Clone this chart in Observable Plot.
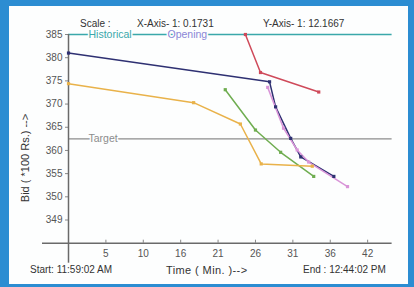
<!DOCTYPE html>
<html><head><meta charset="utf-8">
<script src="https://cdn.jsdelivr.net/npm/d3@7"></script>
<script src="https://cdn.jsdelivr.net/npm/@observablehq/plot@0.6"></script>
<style>
body{margin:0;background:#2c8dd2;width:414px;height:287px;overflow:hidden;font-family:"Liberation Sans",Arial,sans-serif;position:relative;}
#panel{position:absolute;left:9px;top:6px;width:399px;height:278px;background:#fdfefe;}
#chart{position:absolute;left:0;top:0;}
.t{position:absolute;font-size:10px;color:#333;white-space:nowrap;line-height:12px;}
</style></head><body>
<div id="panel"></div>
<div id="chart"></div>
<div class="t" style="left:80px;top:18px">Scale :</div>
<div class="t" style="left:137px;top:18px">X-Axis- 1: 0.1731</div>
<div class="t" style="left:263px;top:18px">Y-Axis- 1: 12.1667</div>
<div class="t" style="left:30px;top:264px">Start: 11:59:02 AM</div>
<div class="t" style="left:166px;top:264px;font-size:11px;letter-spacing:0.4px">Time ( Min. )--&gt;</div>
<div class="t" style="left:303px;top:264px">End : 12:44:02 PM</div>
<div class="t" style="left:25px;top:158px;font-size:11px;transform:translate(-50%,-50%) rotate(-90deg)">Bid ( *100 Rs.) --&gt;</div>
<script>
// Series (time in minutes, bid in *100 Rs.)
const bidderAT = [0, 27.96, 28.8, 30.9, 32.3, 36.9];
const bidderABid = [381.0, 374.8, 369.4, 362.6, 358.6, 354.4];
const bidderBT = [24.6, 26.7, 34.8];
const bidderBBid = [385.0, 376.8, 372.6];
const bidderCT = [21.8, 26.0, 29.5, 34.1];
const bidderCBid = [373.1, 364.4, 359.6, 354.4];
const bidderDT = [0, 17.4, 23.9, 26.8, 33.9];
const bidderDBid = [374.4, 370.3, 365.7, 357.1, 356.6];
const bidderET = [27.7, 29.9, 31.8, 33.4, 38.8];
const bidderEBid = [373.6, 364.8, 360.1, 357.5, 352.2];

const seriesNames = ["Bidder A", "Bidder B", "Bidder C", "Bidder D", "Bidder E"];
const seriesColors = ["#2e3072", "#cf4a5a", "#6fad50", "#e9b24a", "#d995d8"];

// Reference lines
const refNames = ["Historical", "Target"];
const refValues = [385, 362.5];
const refColors = ["#3aa8aa", "#8c8c8c"];
const openingLabel = "Opening";

// Axes
const xTickValues = [5.2, 10.4, 15.6, 20.8, 26.0, 31.2, 36.4, 41.6];
const xTickLabels = ["5", "10", "16", "21", "26", "31", "36", "42"];
const yTickValues = [385, 380, 375, 370, 365, 360, 355, 350, 345];
const yTickLabels = ["385", "380", "375", "370", "365", "360", "355", "350", "349"];

const series = [
  [bidderAT, bidderABid], [bidderBT, bidderBBid], [bidderCT, bidderCBid], [bidderDT, bidderDBid], [bidderET, bidderEBid]
];
const data = series.flatMap(([ts, bs], i) => ts.map((t, j) => ({name: seriesNames[i], t, bid: bs[j]})));
const refs = refNames.map((name, i) => ({name, value: refValues[i], color: refColors[i]}));

const xFmt = d => xTickLabels[xTickValues.indexOf(d)];
const yFmt = d => yTickLabels[yTickValues.indexOf(d)];

const chart = Plot.plot({
  width: 414,
  height: 287,
  marginLeft: 68,
  marginRight: 22.4,
  marginTop: 34,
  marginBottom: 44.3,
  style: {background: "transparent", fontFamily: "Liberation Sans, Arial, sans-serif", fontSize: "10px", color: "#444"},
  x: {domain: [0, 45], axis: null, label: null},
  y: {domain: [340, 385], axis: null, label: null},
  color: {domain: seriesNames, range: seriesColors},
  marks: [
    Plot.ruleY(refs, {y: "value", stroke: "color", strokeWidth: 1.3}),
    Plot.text(refs, {y: "value", text: "name", fill: "color", frameAnchor: "left", textAnchor: "start", dx: 20, fontSize: 10.5, stroke: "#fdfefe", strokeWidth: 3}),
    Plot.text([refs[0]], {y: "value", text: () => openingLabel, fill: "#8a86d6", frameAnchor: "left", textAnchor: "start", dx: 99, fontSize: 10.5, stroke: "#fdfefe", strokeWidth: 3}),
    Plot.axisX({ticks: xTickValues, tickFormat: xFmt, tickSize: 0, tickPadding: 7, fill: "#555", fontSize: 10, label: null}),
    Plot.axisX({ticks: xTickValues, text: null, tickSize: 3, dy: -3, stroke: "#888", label: null}),
    Plot.axisY({ticks: yTickValues, tickFormat: yFmt, tickSize: 3, tickPadding: 3, stroke: "#888", fill: "#555", fontSize: 10, label: null}),
    Plot.ruleX([0], {stroke: "#6a6a6a", strokeWidth: 1.5, insetBottom: -20}),
    Plot.ruleY([340], {stroke: "#6a6a6a", strokeWidth: 1.5, insetLeft: -26}),
    Plot.line(data, {x: "t", y: "bid", z: "name", stroke: "name", strokeWidth: 1.5}),
    Plot.dot(data, {x: "t", y: "bid", fill: "name", symbol: "square", r: 1.8})
  ]
});
document.getElementById("chart").append(chart);
</script>
</body></html>
